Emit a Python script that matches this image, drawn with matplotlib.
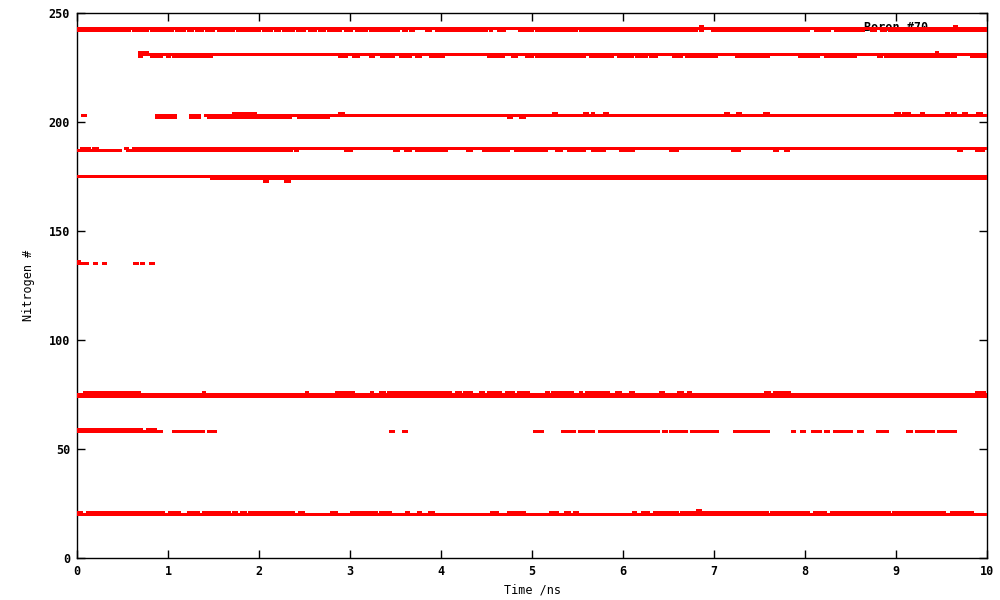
import numpy as np
import matplotlib
matplotlib.use("Agg")
import matplotlib.pyplot as plt

# occupancy of each nitrogen index over time as (t_start, t_end) in ns
n243 = [(0.0, 10.0)]
n242 = [(0.0, 0.42), (0.45, 0.50), (0.53, 0.58), (0.62, 0.66), (0.70, 0.78), (0.82, 0.86),
        (0.90, 0.97), (1.00, 1.05), (1.09, 1.18), (1.22, 1.27), (1.31, 1.38), (1.42, 1.50),
        (1.55, 1.64), (1.68, 1.72), (1.76, 1.88), (1.92, 2.00), (2.05, 2.14), (2.18, 2.22),
        (2.27, 2.38), (2.42, 2.50), (2.55, 2.62), (2.67, 2.72), (2.76, 2.90), (2.95, 3.02),
        (3.07, 3.18), (3.22, 3.30), (3.34, 3.53), (3.59, 3.62), (3.66, 3.70), (3.84, 3.88),
        (3.95, 4.13), (4.15, 4.34), (4.36, 4.50), (4.54, 4.56), (4.63, 4.70), (4.86, 5.01),
        (5.05, 5.12), (5.14, 5.31), (5.33, 5.49), (5.53, 5.71), (5.73, 5.75), (5.79, 5.99),
        (6.01, 6.07), (6.08, 6.41), (6.43, 6.59), (6.60, 6.81), (6.85, 6.87), (6.98, 7.17),
        (7.19, 7.21), (7.23, 7.27), (7.30, 7.56), (7.58, 7.60), (7.63, 7.78), (7.81, 7.94),
        (7.96, 7.98), (8.02, 8.04), (8.12, 8.27), (8.33, 8.57), (8.60, 8.64), (8.73, 8.77),
        (8.84, 8.88), (8.93, 8.97), (9.01, 9.34), (9.36, 9.56), (9.59, 9.92), (9.95, 10.0)]
n244 = [(6.85, 6.87), (9.64, 9.66)]

n232 = [(0.69, 0.78), (9.44, 9.46)]
n231 = [(0.69, 10.0)]
n230 = [(0.69, 0.71), (0.82, 0.87), (0.91, 0.93), (0.99, 1.02), (1.06, 1.28), (1.30, 1.35),
        (1.37, 1.42), (1.44, 1.48), (2.89, 2.96), (3.04, 3.09), (3.22, 3.26), (3.35, 3.40),
        (3.42, 3.48), (3.55, 3.59), (3.60, 3.66), (3.73, 3.77), (3.88, 4.03), (4.52, 4.59),
        (4.61, 4.69), (4.79, 4.83), (4.94, 5.01), (5.05, 5.14), (5.16, 5.18), (5.20, 5.31),
        (5.34, 5.42), (5.44, 5.46), (5.49, 5.58), (5.64, 5.67), (5.69, 5.89), (5.95, 6.10),
        (6.15, 6.26), (6.30, 6.37), (6.55, 6.64), (6.70, 7.03), (7.25, 7.60), (7.94, 8.04),
        (8.07, 8.15), (8.23, 8.55), (8.81, 8.84), (8.88, 9.01), (9.04, 9.10), (9.11, 9.28),
        (9.30, 9.41), (9.43, 9.65), (9.83, 10.0)]

n204 = [(1.72, 1.96), (2.88, 2.93), (5.24, 5.27), (5.58, 5.61), (5.66, 5.68), (5.80, 5.83),
        (7.13, 7.16), (7.26, 7.29), (7.56, 7.60), (9.00, 9.04), (9.08, 9.15), (9.28, 9.30),
        (9.55, 9.58), (9.62, 9.65), (9.74, 9.77), (9.90, 9.94)]
n203 = [(0.06, 0.09), (0.87, 1.08), (1.25, 1.35), (1.41, 10.0)]
n202 = [(0.87, 1.08), (1.25, 1.35), (1.44, 2.35), (2.43, 2.52), (2.54, 2.63), (2.65, 2.76),
        (4.74, 4.77), (4.87, 4.92)]

n188 = [(0.05, 0.14), (0.18, 0.23), (0.53, 0.56), (0.62, 10.0)]
n187 = [(0.0, 0.42), (0.45, 0.48), (0.55, 2.36), (2.40, 2.42), (2.95, 3.02), (3.49, 3.53),
        (3.61, 3.66), (3.73, 3.82), (3.84, 3.87), (3.90, 3.99), (4.01, 4.06), (4.29, 4.34),
        (4.47, 4.50), (4.51, 4.56), (4.57, 4.67), (4.69, 4.74), (4.82, 4.89), (4.91, 5.16),
        (5.27, 5.32), (5.40, 5.58), (5.67, 5.80), (5.97, 6.03), (6.05, 6.11), (6.52, 6.60),
        (7.20, 7.28), (7.67, 7.70), (7.79, 7.82), (9.69, 9.72), (9.88, 9.91), (9.93, 9.96)]

n175 = [(0.0, 10.0)]
n174 = [(1.48, 10.0)]
n173 = [(2.06, 2.09), (2.29, 2.33)]

n136 = [(0.0, 0.03)]
n135 = [(0.0, 0.11), (0.19, 0.21), (0.29, 0.31), (0.63, 0.66), (0.71, 0.73), (0.81, 0.84)]

n76 = [(0.08, 0.14), (0.16, 0.40), (0.42, 0.69), (1.39, 1.40), (2.52, 2.53), (2.85, 3.04),
       (3.24, 3.25), (3.33, 3.38), (3.42, 3.60), (3.62, 3.79), (3.81, 4.03), (4.06, 4.10),
       (4.17, 4.21), (4.26, 4.34), (4.43, 4.47), (4.52, 4.58), (4.61, 4.65), (4.72, 4.80),
       (4.85, 4.96), (5.16, 5.18), (5.23, 5.45), (5.53, 5.54), (5.60, 5.64), (5.67, 5.77),
       (5.80, 5.84), (5.93, 5.97), (6.08, 6.11), (6.41, 6.44), (6.61, 6.65), (6.72, 6.74),
       (7.57, 7.61), (7.67, 7.71), (7.74, 7.76), (7.79, 7.83), (9.88, 9.92), (9.93, 9.97)]
n75 = [(0.0, 10.0)]
n74 = [(0.0, 10.0)]

n59 = [(0.0, 0.09), (0.11, 0.67), (0.69, 0.71), (0.77, 0.86)]
n58 = [(0.0, 0.93), (1.06, 1.11), (1.13, 1.18), (1.20, 1.24), (1.26, 1.32), (1.35, 1.39),
       (1.44, 1.52), (3.45, 3.48), (3.59, 3.62), (5.03, 5.12), (5.33, 5.36), (5.37, 5.41),
       (5.43, 5.47), (5.52, 5.68), (5.74, 5.79), (5.81, 5.85), (5.86, 5.95), (5.96, 6.07),
       (6.08, 6.19), (6.20, 6.39), (6.45, 6.48), (6.52, 6.63), (6.67, 6.70), (6.75, 6.83),
       (6.86, 6.89), (6.91, 7.04), (7.23, 7.27), (7.27, 7.36), (7.37, 7.53), (7.54, 7.60),
       (7.86, 7.89), (7.96, 7.99), (8.08, 8.17), (8.23, 8.26), (8.32, 8.51), (8.59, 8.63),
       (8.80, 8.91), (9.13, 9.17), (9.22, 9.36), (9.36, 9.41), (9.47, 9.51), (9.52, 9.59),
       (9.62, 9.65)]

n22 = [(6.82, 6.85)]
n21 = [(0.0, 0.05), (0.11, 0.22), (0.23, 0.55), (0.56, 0.60), (0.62, 0.69), (0.71, 0.75),
       (0.77, 0.88), (0.91, 0.95), (1.02, 1.06), (1.08, 1.13), (1.22, 1.26), (1.28, 1.33),
       (1.39, 1.42), (1.44, 1.52), (1.53, 1.57), (1.59, 1.68), (1.72, 1.75), (1.81, 1.85),
       (1.90, 2.38), (2.45, 2.49), (2.80, 2.85), (3.02, 3.07), (3.09, 3.18), (3.20, 3.29),
       (3.33, 3.44), (3.62, 3.64), (3.75, 3.78), (3.87, 3.92), (4.55, 4.58), (4.59, 4.62),
       (4.74, 4.77), (4.79, 4.81), (4.83, 4.86), (4.89, 4.92), (5.20, 5.23), (5.25, 5.28),
       (5.37, 5.41), (5.47, 5.50), (6.11, 6.14), (6.21, 6.23), (6.25, 6.28), (6.35, 6.44),
       (6.47, 6.60), (6.64, 6.67), (6.69, 7.07), (7.08, 7.23), (7.25, 7.33), (7.35, 7.41),
       (7.41, 7.59), (7.63, 7.82), (7.84, 7.99), (8.00, 8.04), (8.10, 8.17), (8.18, 8.23),
       (8.29, 8.64), (8.65, 8.72), (8.73, 8.93), (8.97, 9.14), (9.15, 9.43), (9.46, 9.53),
       (9.61, 9.65), (9.68, 9.71), (9.73, 9.77), (9.80, 9.84)]
n20 = [(0.0, 10.0)]

levels = {244: n244, 243: n243, 242: n242, 232: n232, 231: n231, 230: n230,
          204: n204, 203: n203, 202: n202, 188: n188, 187: n187,
          175: n175, 174: n174, 173: n173, 136: n136, 135: n135,
          76: n76, 75: n75, 74: n74, 59: n59, 58: n58, 22: n22, 21: n21, 20: n20}

plt.rcParams['font.family'] = 'DejaVu Sans Mono'
plt.rcParams['font.weight'] = 'bold'

fig = plt.figure(figsize=(10, 6), dpi=100)
ax = fig.add_axes([0.077, 0.07, 0.91, 0.908])

pt_w = 0.033   # one plotted point is about 3 px wide
pt_h = 1.4     # and 3 px tall
for n, spans in levels.items():
    xr = [(a - pt_w / 2, max(b - a, 0.0) + pt_w) for a, b in spans]
    ax.broken_barh(xr, (n - pt_h / 2, pt_h), facecolors='#ff0000', edgecolors='none', zorder=3)

ax.text(9.35, 243.5, 'Boron #70', ha='right', va='center', fontsize=8.5, zorder=2)

ax.set_xlim(0, 10)
ax.set_ylim(0, 250)
ax.set_xticks(range(0, 11))
ax.set_yticks(range(0, 251, 50))
ax.tick_params(direction='in', length=6, width=1, top=True, right=True,
               labelsize=8.5, pad=5)
for s in ax.spines.values():
    s.set_linewidth(1)
ax.set_xlabel('Time /ns', fontsize=8.5, labelpad=4)
ax.set_ylabel('Nitrogen #', fontsize=8.5, labelpad=10)

fig.savefig('out.png', dpi=100)
